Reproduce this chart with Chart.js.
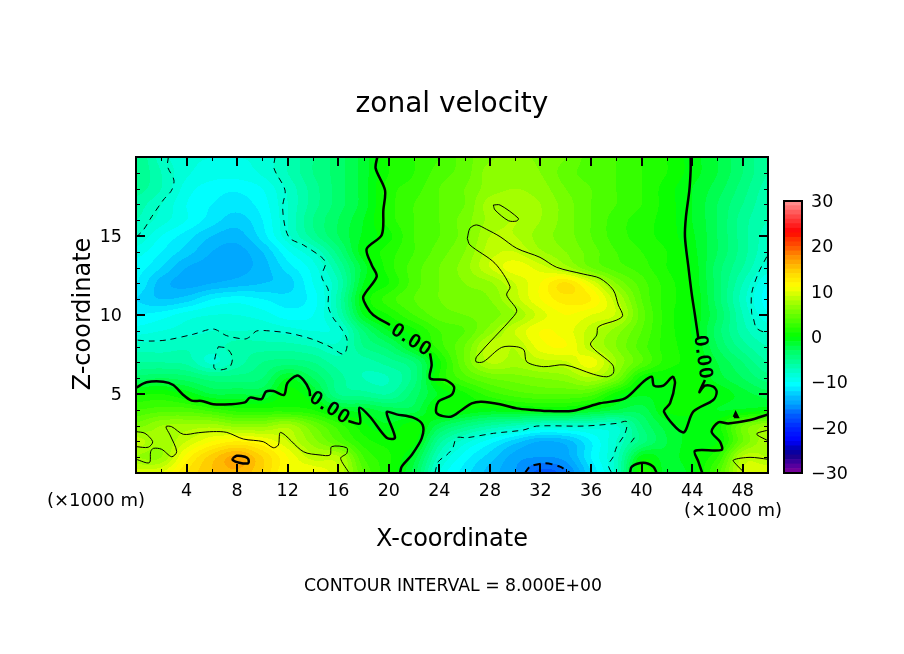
<!DOCTYPE html>
<html><head><meta charset="utf-8">
<style>html,body{margin:0;padding:0;background:#fff;width:904px;height:654px;overflow:hidden}canvas{position:absolute;display:block}</style>
<script src="https://cdn.jsdelivr.net/npm/chart.js@4"></script></head>
<body>
<canvas id="main" width="904" height="654" style="left:0;top:0;width:904px;height:654px"></canvas>
<canvas id="bar" width="134" height="320" style="left:770px;top:180px;width:134px;height:320px"></canvas>
<script>
// ---------- DATA ----------
const xGrid = [0,2,4,6,8,10,12,14,16,18,20,22,24,26,28,30,32,34,36,38,40,42,44,46,48,50];
const zGrid = [0,1,2,3,4,5,6,7,8,9,10,11,12,13,14,15,16,17,18,19,20];
const u00 = [9.5,10,13,15,15.8,14,11,11,9,4,1,-2.5,-9,-11.5,-13.5,-15,-17.5,-16.3,-12,-7.5,1.5,-1.5,-.5,3.5,9,10];
const u01 = [7,7,11.5,14.5,16.3,14,11,8.5,8.2,3,1.2,-1.5,-7.5,-10.5,-12.5,-14.5,-15,-14.5,-11,-7.5,-.5,-1.5,-.1,2,8.2,8];
const u02 = [8.5,7.2,9,11,12,11,9,6.5,4,1.5,.5,.3,-5.5,-8.5,-10.5,-12.5,-14,-13.5,-11,-8,-4.5,-2,-.5,0,5,7.8];
const u03 = [5.5,7,7.3,7.5,6.5,6.5,7.5,5,2.5,.3,-.8,.5,-2.5,-4.5,-6,-7,-8,-8,-8,-8,-4,-1.5,-.5,.5,5,7];
const u04 = [3,3.5,3.5,2.5,1.5,1.5,1.5,1,-1,-1.5,-2.5,-2.5,.5,0,-.5,-.2,-.1,-.1,-1,-2,-2.5,.1,.3,-1,-.8,-.3];
const u05 = [.7,1,-.3,-2,-2,-2,.5,-1,-5,-5.5,-6,-3.5,-.8,.8,2.5,3.5,4,4,3.5,.5,-.8,-.3,.5,-.1,-1.5,-2.5];
const u06 = [-3.5,-3,-3.5,-4.5,-4.5,-4,-1,-3,-5.5,-7,-7,-4.5,1,3.5,5,5.5,6,6.5,7.8,5.5,.5,.2,.5,-1.5,-3,-4.5];
const u07 = [-6,-6,-6.3,-8.2,-6.5,-5,-4.5,-5,-6.5,-6.5,-5.5,-4,.7,5,8.1,7.5,8.5,8.8,10.5,7,4,1.5,.5,-2,-4,-6];
const u08 = [-7.5,-7.5,-7.2,-7.5,-6.5,-6.5,-6.5,-7,-7.7,-5,-3.5,-.5,2.5,5,8.5,8.1,10.5,11,8.3,6,3.5,1.5,.2,-3,-5.5,-7];
const u09 = [-9.5,-9,-8.5,-8,-8,-8,-8.5,-9,-8.5,-4,-1,.7,3,4,6.5,9,11,10.5,8.5,6.5,4,1.5,-.1,-3.5,-6.5,-8.2];
const u10 = [-11,-10.5,-9.5,-9,-9,-9.5,-10.5,-10,-7,-1,1,3,4.5,5,5.5,7,9.5,11,10,8.8,4.5,1.5,-.1,-3,-7,-9.8];
const u11 = [-12,-13,-12.5,-11,-10.5,-11,-11.5,-10.5,-6.5,0,2.5,4,5,5.5,6,8.5,11,12.5,12,8.3,4,1.5,.1,-3.5,-7.5,-10.5];
const u12 = [-11,-13.5,-14.4,-14,-13.5,-13,-12.5,-10,-7,-1,1,3.5,5,6,6.8,9,11,13.2,10,6,3.5,1.5,-.2,-3.5,-7,-10];
const u13 = [-10.5,-12,-14,-14.4,-14.4,-13.5,-11.5,-9.5,-6,-1.5,1.5,3.5,5,6.5,9,10.5,9.5,7.5,5,3.5,2.5,1,-.3,-3.5,-6,-8.5];
const u14 = [-9.5,-11,-12.5,-14,-14.4,-13,-10.2,-8,-4.5,-.3,1.5,3,4.5,6,8.5,9,7.2,6,4.5,3,2,1,-.6,-3,-5.5,-7.8];
const u15 = [-8,-10,-11.5,-13,-13.5,-11.5,-8.3,-5.5,-3,-.8,.7,3,4,5.5,8,8,6.5,5.5,4,2.5,1.5,.5,-.8,-3,-5.5,-7.5];
const u16 = [-7,-8.5,-10,-11.5,-12.5,-11,-8,-5,-3,-1,1.5,3,4,5.5,7.3,8,7,5.5,4,2.5,1.5,.5,-1,-3,-5.5,-7];
const u17 = [-6.5,-8,-10,-11,-11.5,-10.5,-8,-5.5,-3.5,-1.5,1.5,3,4,5,7.5,7.5,7,5.5,4,3,2,.5,-1,-3,-5,-6.8];
const u18 = [-5.5,-7,-9.5,-10.5,-10.8,-10,-7.8,-5.5,-3.5,-1.5,1.5,2.5,4,5,6.5,7,6.5,5,4,3,2,.5,-1,-2.5,-4.5,-6.5];
const u19 = [-5,-7,-8.8,-9.5,-9.5,-8.8,-7,-5,-3.5,-1.5,1,2,3.5,4.5,6.5,6.5,6,4.5,3.5,3,2,1,-.5,-2,-4,-6];
const u20 = [-5,-7.5,-8.7,-9,-9,-8.7,-7,-5,-3.5,-1.5,1,2,3,4.5,5.8,6.2,5.8,5,3.5,3,2,1,-.5,-2,-4,-6];
const uRows = [u00,u01,u02,u03,u04,u05,u06,u07,u08,u09,u10,u11,u12,u13,u14,u15,u16,u17,u18,u19,u20];

// contour lines as [x, z] pairs in axis units
const zeroA = [[19.09,20],[18.96,19.28],[19.7,17.9],[19.57,16.65],[19.44,15.06],[18.25,14.18],[18.65,13.16],[19.04,12.43],[17.98,11.16],[18.25,10.53],[18.77,10],[20.09,9.37]];
const zeroA2 = [[23.26,7.57],[23.39,6.84],[23.26,5.99],[24.45,5.89],[25.16,5.46],[24.97,4.94],[23.92,4.51],[23.79,3.78],[24.9,3.56],[25.77,3.99],[26.56,4.41],[27.35,4.51],[28.8,4.35],[30.12,4.09],[31.43,3.99],[32.75,3.92],[34.6,3.94],[36.71,4.41],[38.69,4.72],[40.14,5.78],[40.8,6.09],[40.98,5.53],[41.72,5.53],[42.46,6.09],[42.64,5.67],[42.25,4.41],[41.77,3.88],[43.3,2.57],[44.09,3.88],[45.67,4.62],[45.94,5.15],[45.67,5.46],[45.01,5.53],[44.57,5.11],[45.01,5.89]];
const zeroB = [[0,5.4],[.84,5.74],[2.16,5.78],[2.95,5.57],[3.74,4.94],[4.4,4.58],[5.2,4.56],[6.12,4.35],[7.44,4.35],[8.62,4.47],[9.02,4.77],[9.94,4.68],[10.28,5.15],[10.87,5.19],[11.71,4.94],[11.97,5.68],[12.71,6.16],[13.24,5.89],[13.71,5.25],[13.77,4.87]];
const zeroB2 = [[16.8,3.29],[17.72,3.14],[17.67,4.13],[18.51,3.56],[19.83,2.23],[20.49,2.23],[19.83,3.84],[20.62,3.71],[21.94,3.5],[22.68,3.04],[22.6,2.19],[21.81,1.14],[21.02,.4],[20.89,0]];
const zeroC = [[44.49,8.52],[44.22,10],[43.96,11.37],[43.7,13.06],[43.43,14.96],[43.51,16.22],[43.78,17.91],[43.88,19.18],[43.88,20]];
const zeroD = [[50,3.71],[48.58,3.35],[46.86,3.14],[46.07,3.21],[45.54,2.61],[46.2,1.98],[46.33,1.46],[44.22,1.4],[44.49,.72],[44.8,0]];
const zeroE = [[39.08,0],[39.22,.4],[40.14,.65],[40.93,.4],[41.19,0]];
const zeroF = [[47.3,3.55],[47.6,3.55],[47.44,3.8],[47.3,3.55]];
const plus16 = [[7.65,.93],[7.97,1.09],[8.62,1.03],[8.88,.89],[8.88,.61],[8.09,.67],[7.65,.83],[7.65,.93]];
const plus8A = [[26.21,14.85],[26.42,15.49],[26.95,15.7],[27.74,15.42],[28.8,14.96],[30.12,14.22],[31.96,13.65],[33.28,13.02],[35.39,12.59],[36.71,12.32],[37.76,11.58],[38.16,10.63],[38.5,9.96],[38.03,9.68],[36.58,9.26],[36.45,8.73],[35.97,8.1],[37.71,6.84],[37.76,6.31],[37.24,6.09],[36.18,6.25],[33.94,6.84],[32.23,6.73],[30.91,7.04],[30.7,7.78],[30.12,7.99],[28.93,7.95],[27.48,7.04],[26.9,7.04],[26.95,7.36],[29.85,9.89],[30.12,10.32],[29.32,11.27],[29.59,11.79],[28.4,13.27],[26.42,14.43],[26.21,14.85]];
const plus8B = [[28.27,16.96],[28.8,16.96],[30.25,16.12],[30.12,15.95],[29.46,15.97],[28.4,16.65],[28.27,16.96]];
const plus8C = [[0,2.62],[.71,2.51],[1.32,1.98],[.97,1.63],[0,1.67]];
const plus8D = [[0,.87],[1.05,.65],[1.16,1.35],[1.37,1.56],[2.03,1.5],[2.82,1.03],[3.22,1.35],[2.69,2.41],[2.37,2.93],[2.82,2.93],[3.74,2.45],[4.93,2.55],[6.12,2.62],[7.18,2.57],[8.49,2.15],[10.07,1.98],[10.86,1.6],[11.26,1.77],[11.45,2.57],[13.24,1.35],[14.56,1.14],[15.35,1.14],[15.48,1.67],[16.67,1.6],[16.67,1.24],[16.19,.93],[16.8,.08],[16.85,0]];
const plus8E = [[50,2.72],[49.1,2.47],[50,2.04]];
const plus8F = [[50,.87],[48.58,.99],[47.26,.82],[47.52,.51],[48.05,.08],[48.1,0]];
const minus8A = [[2.56,20],[2.5,19.39],[3,18.54],[2.82,17.9],[2.16,17.28],[1.24,16.22],[.58,15.38],[0,14.92]];
const minus8B = [[11,20],[10.92,19.28],[11.79,17.9],[11.6,16.86],[11.79,15.59],[12.18,14.85],[13.24,14.43],[14.69,13.65],[15,13.27],[14.69,12.43],[15.21,11.59],[15.21,10.53],[15.61,9.8],[16.14,9.26],[16.67,8.52],[16.67,7.89],[16.4,7.51],[15.35,7.99],[13.9,8.48],[12.18,8.84],[10.6,8.99],[9.55,8.99],[9.02,8.63],[8.62,8.48],[7.18,8.69],[6.12,9.11],[4.53,8.78],[2.43,8.42],[1.11,8.35],[0,8.42]];
const minus8C = [[6.51,7.99],[7.18,7.89],[7.62,7.36],[7.44,6.73],[6.65,6.52],[6.17,6.66],[6.33,7.57],[6.51,7.99]];
const minus8D = [[49.9,13.69],[49.23,12.64],[48.71,11.37],[48.71,10.1],[48.84,9.79],[49.1,9.16],[49.9,8.84]];
const minus8E = [[23.65,0],[23.92,.72],[24.58,1.14],[25.05,1.56],[25.37,2.23],[26.16,2.23],[28.27,2.51],[30.64,2.72],[31.7,2.97],[35.39,2.97],[38.03,3.14],[38.82,3.25],[38.69,2.51],[38.03,1.66],[37.76,1.03],[37.37,.51],[37.63,0]];
const minus8F = [[39.16,1.94],[39.43,2.23]];
const minus16 = [[30.78,0],[31.17,.4],[32.36,.61],[33.54,.4],[34.34,0]];

const contourThick = [zeroA,zeroA2,zeroB,zeroB2,zeroC,zeroD,zeroE,zeroF,plus16];
const contourThin = [plus8A,plus8B,plus8C,plus8D,plus8E,plus8F];
const contourDash = [minus8A,minus8B,minus8C,minus8D,minus8E,minus8F];
const contourHeavyDash = [minus16];

const contourLabelText = "0.00";
const contourLabelX = [21.8, 15.35, 44.85];
const contourLabelZ = [8.4, 4.1, 7.3];
const contourLabelAngle = [33, 33, 82];

const xTickStep = 2, xLabelStep = 4, xMax = 50;
const zTickStep = 1, zLabelStep = 5, zMax = 20;
const barTicks = [-30,-20,-10,0,10,20,30];
const barLevels = []; for (let v=-30; v<30; v++) barLevels.push(v);

const colorStops = [[-30,'#800098'],[-28,'#4800a0'],[-26.5,'#1c0090'],[-25,'#0000a8'],[-23,'#0000ff'],[-20,'#0028ff'],[-18,'#0050ff'],[-17,'#0060ff'],[-16,'#0080ff'],[-15,'#00a0ff'],[-14,'#00b0ff'],[-13,'#00c0ff'],[-12,'#00e0ff'],[-10.5,'#00ffff'],[-8,'#00ffd0'],[-6,'#00ffa0'],[-3,'#00ff60'],[0,'#00ff00'],[3,'#40ff00'],[6,'#80ff00'],[8,'#b0ff00'],[11,'#ffff00'],[14,'#ffd800'],[16,'#ffb000'],[18,'#ff8800'],[20,'#ff5000'],[22,'#ff2800'],[23,'#ff0000'],[25,'#ff2828'],[27,'#ff5050'],[30,'#ff9898']];

// ---------- HELPERS ----------
const FONT = '"DejaVu Sans"';
function hex(c){return [parseInt(c.slice(1,3),16),parseInt(c.slice(3,5),16),parseInt(c.slice(5,7),16)];}
const stopRgb = colorStops.map(s=>[s[0],hex(s[1])]);
function rgbFor(v){
  if (v<=stopRgb[0][0]) return stopRgb[0][1];
  for (let i=1;i<stopRgb.length;i++){
    if (v<=stopRgb[i][0]){
      const a=stopRgb[i-1],b=stopRgb[i],t=(v-a[0])/(b[0]-a[0]);
      return a[1].map((c,k)=>Math.round(c+(b[1][k]-c)*t));
    }
  }
  return stopRgb[stopRgb.length-1][1];
}
function bandRgb(v){return rgbFor(Math.floor(v)+0.5);}
const nX=xGrid.length,nZ=zGrid.length;
function cr(a,b,c,d,t){return b+.5*t*(c-a+t*(2*a-5*b+4*c-d+t*(3*(b-c)+d-a)));}
function sample(x,z){
  const fx=Math.min(Math.max(x/xGrid[1],0),nX-1.0001), fz=Math.min(Math.max(z,0),nZ-1.0001);
  const i=Math.floor(fx), j=Math.floor(fz), s=fx-i, t=fz-j;
  const col=[];
  for(let m=-1;m<=2;m++){
    const r=uRows[Math.min(nZ-1,Math.max(0,j+m))];
    col.push(cr(r[Math.max(0,i-1)],r[i],r[i+1],r[Math.min(nX-1,i+2)],s));
  }
  return cr(col[0],col[1],col[2],col[3],t);
}
const pairs = a => a.map(p=>({x:p[0],y:p[1]}));
function lineSet(name,pts,width,dash,tension){
  return {label:name,type:'scatter',data:pairs(pts),showLine:true,tension:tension===undefined?.3:tension,borderColor:'#000',backgroundColor:'#000',borderWidth:width,borderDash:dash||[],pointRadius:0,pointHoverRadius:0,clip:true};
}

// ---------- FIELD + FRAME PLUGIN ----------
const fieldPlugin = {
  id:'field',
  beforeDatasetsDraw(chart){
    const a=chart.chartArea,X=chart.scales.x,Y=chart.scales.y,ctx=chart.ctx;
    const w=Math.round(a.right-a.left),h=Math.round(a.bottom-a.top);
    const off=document.createElement('canvas');off.width=w;off.height=h;
    const octx=off.getContext('2d'),img=octx.createImageData(w,h);
    for(let py=0;py<h;py++){
      const z=Y.getValueForPixel(a.top+py+.5);
      for(let px=0;px<w;px++){
        const x=X.getValueForPixel(a.left+px+.5);
        const c=bandRgb(sample(x,z)),o=(py*w+px)*4;
        img.data[o]=c[0];img.data[o+1]=c[1];img.data[o+2]=c[2];img.data[o+3]=255;
      }
    }
    octx.putImageData(img,0,0);
    ctx.drawImage(off,a.left,a.top);
  },
  afterDatasetsDraw(chart){
    const a=chart.chartArea,X=chart.scales.x,Y=chart.scales.y,ctx=chart.ctx;
    ctx.save();ctx.strokeStyle='#000';
    X.ticks.forEach(t=>{
      if(t.value<=0||t.value>=xMax)return;
      const p=Math.round(X.getPixelForValue(t.value)),maj=t.value%xLabelStep===0,l=maj?9:4;
      ctx.lineWidth=maj?2:1;const q=maj?p:p+.5;
      ctx.beginPath();ctx.moveTo(q,a.bottom);ctx.lineTo(q,a.bottom-l);ctx.moveTo(q,a.top);ctx.lineTo(q,a.top+l);ctx.stroke();
    });
    Y.ticks.forEach(t=>{
      if(t.value<=0||t.value>=zMax)return;
      const p=Math.round(Y.getPixelForValue(t.value)),maj=t.value%zLabelStep===0,l=maj?9:4;
      ctx.lineWidth=maj?2:1;const q=maj?p:p+.5;
      ctx.beginPath();ctx.moveTo(a.left,q);ctx.lineTo(a.left+l,q);ctx.moveTo(a.right,q);ctx.lineTo(a.right-l,q);ctx.stroke();
    });
    ctx.lineWidth=2;ctx.strokeRect(a.left,a.top,a.right-a.left,a.bottom-a.top);
    // contour labels
    ctx.fillStyle='#000';ctx.font='bold 20px "Liberation Sans"';ctx.textAlign='center';ctx.textBaseline='middle';
    ctx.letterSpacing='1.5px';
    contourLabelX.forEach((x,i)=>{
      ctx.save();ctx.translate(X.getPixelForValue(x),Y.getPixelForValue(contourLabelZ[i]));
      ctx.rotate(contourLabelAngle[i]*Math.PI/180);ctx.fillText(contourLabelText,0,0);ctx.restore();
    });
    ctx.restore();
  },
  afterDraw(chart){
    const ctx=chart.ctx;ctx.save();ctx.fillStyle='#000';ctx.textAlign='center';ctx.textBaseline='middle';
    const put=(s,x,y,size,rot,sp)=>{ctx.save();ctx.font=size+'px '+FONT;ctx.letterSpacing=(sp||0)+'px';ctx.translate(x,y);if(rot)ctx.rotate(rot);ctx.fillText(s,0,0);ctx.restore();};
    put('zonal velocity',452,105,28);
    put('X-coordinate',452,540,24);
    put('Z-coordinate',84,314,24,-Math.PI/2);
    put('CONTOUR INTERVAL = 8.000E+00',453,587,17.3);
    put('(×1000 m)',96,501.5,18);
    put('(×1000 m)',733,511.5,18);
    ctx.restore();
  }
};

// ---------- MAIN CHART ----------
const datasets = [{label:'zonal velocity',type:'scatter',pointRadius:0,pointHoverRadius:0,
  data:zGrid.flatMap((z,j)=>xGrid.map((x,i)=>({x:x,y:z,v:uRows[j][i]})))}];
contourThick.forEach((c,i)=>datasets.push(lineSet('0 / +16 contour '+i,c,2.5,[],c===zeroF?0:.3)));
contourThin.forEach((c,i)=>datasets.push(lineSet('+8 contour '+i,c,1)));
contourDash.forEach((c,i)=>datasets.push(lineSet('-8 contour '+i,c,1,[6,5])));
contourHeavyDash.forEach((c,i)=>datasets.push(lineSet('-16 contour '+i,c,2,[7,5])));

new Chart(document.getElementById('main'),{
  type:'scatter',
  data:{datasets},
  plugins:[fieldPlugin],
  options:{
    responsive:false,animation:false,devicePixelRatio:1,
    layout:{padding:{left:76,top:157,right:136,bottom:141}},
    plugins:{legend:{display:false},tooltip:{enabled:false}},
    scales:{
      x:{type:'linear',min:0,max:xMax,grid:{display:false},border:{display:false},
        afterFit(s){s.height=40;},
        ticks:{stepSize:xTickStep,autoSkip:false,maxRotation:0,minRotation:0,padding:0,color:'#000',font:{family:FONT,size:17.5},
          callback:v=>(v%xLabelStep===0&&v>0&&v<xMax)?String(v):''}},
      y:{type:'linear',min:0,max:zMax,grid:{display:false},border:{display:false},
        afterFit(s){s.width=60;},
        ticks:{stepSize:zTickStep,autoSkip:false,padding:6,labelOffset:1.5,color:'#000',font:{family:FONT,size:17.5},
          callback:v=>(v%zLabelStep===0&&v>0&&v<zMax)?String(v):''}}
    }
  }
});

// ---------- COLOUR BAR ----------
const framePlugin = {id:'barFrame',afterDatasetsDraw(chart){
  const a=chart.chartArea,ctx=chart.ctx;ctx.save();ctx.strokeStyle='#000';ctx.lineWidth=2;
  ctx.strokeRect(a.left,a.top,a.right-a.left,a.bottom-a.top);ctx.restore();}};
const rgbStr = c=>'rgb('+c.join(',')+')';
new Chart(document.getElementById('bar'),{
  type:'bar',
  data:{labels:['u'],datasets:barLevels.map(v=>({label:String(v),data:[[v,v+1]],backgroundColor:rgbStr(bandRgb(v)),grouped:false,barPercentage:1,categoryPercentage:1,borderWidth:0}))},
  plugins:[framePlugin],
  options:{
    responsive:false,animation:false,devicePixelRatio:1,
    layout:{padding:{left:14,top:21,right:0,bottom:27}},
    plugins:{legend:{display:false},tooltip:{enabled:false}},
    scales:{
      x:{display:false},
      y:{type:'linear',position:'right',min:-30,max:30,grid:{display:false},border:{display:false},
        afterFit(s){s.width=102;},
        afterBuildTicks(s){s.ticks=barTicks.map(v=>({value:v}));},
        ticks:{padding:1,labelOffset:1.5,color:'#000',font:{family:FONT,size:17.5},callback:v=>v<0?'\u2212'+Math.abs(v):String(v)}}
    }
  }
});
</script>
</body></html>
